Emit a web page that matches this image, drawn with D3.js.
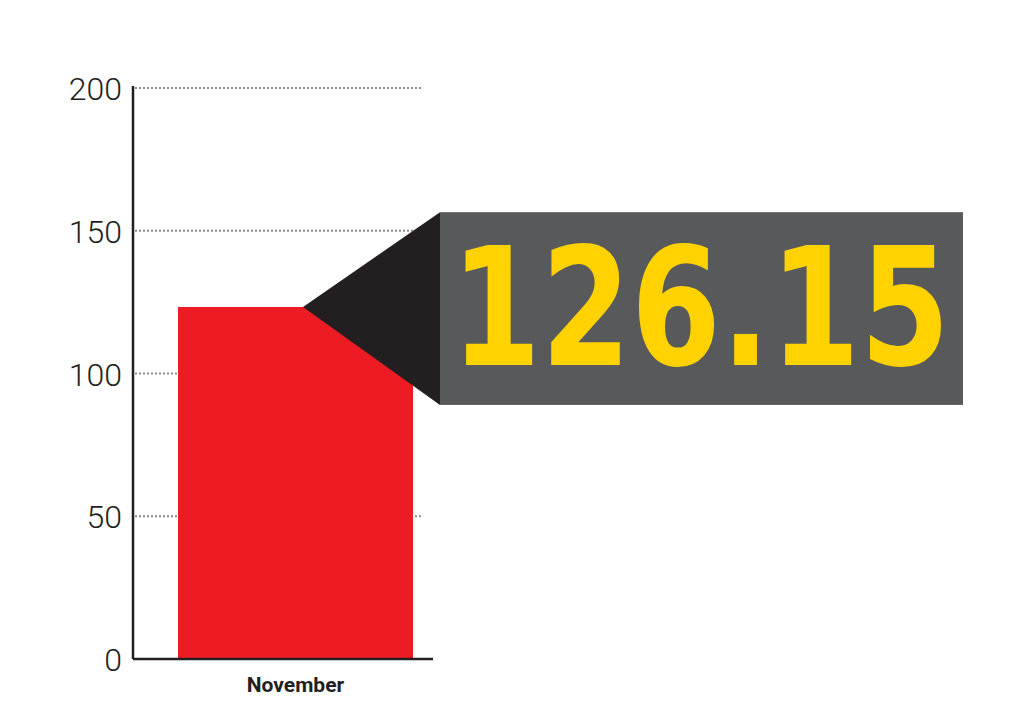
<!DOCTYPE html>
<html>
<head>
<meta charset="utf-8">
<script src="https://cdn.jsdelivr.net/npm/d3@7"></script>
<style>
  body { margin: 0; background: #fff; }
</style>
</head>
<body>
<div class="graph"></div>
<script>
// data
var categories = ['November']
var values = [123.3]          // bar height as drawn
var callouts = ['126.15']     // value printed in the callout box
var yTicks = [0, 50, 100, 150, 200]

// size and margin
var basewidth = 1024, baseheight = 714
var margin = { top: 88, right: 0, bottom: 55, left: 133 }
var height = baseheight - margin.top - margin.bottom

var svg = d3.select('.graph')
    .append('svg')
    .attr('width', basewidth)
    .attr('height', baseheight)
var canvas = svg.append('g')
    .attr('transform', 'translate(' + margin.left + ',' + margin.top + ')')

var y = d3.scaleLinear().domain([0, 200]).range([height, 0])
var x = d3.scaleBand().domain(categories).range([45, 280]).padding(0)

// dotted grid
canvas.append('g')
    .selectAll('line')
    .data(yTicks.slice(1))
    .enter().append('line')
    .attr('x1', 2).attr('x2', 288)
    .attr('y1', d => y(d)).attr('y2', d => y(d))
    .style('stroke', '#8c8c8c')
    .style('stroke-width', 2)
    .style('stroke-dasharray', '2 2')

// y axis
var yAxis = canvas.append('g')
    .call(d3.axisLeft(y).tickValues(yTicks).tickSize(0).tickPadding(11))
yAxis.select('.domain').remove()
yAxis.selectAll('text')
    .style('font-family', 'Roboto, sans-serif')
    .style('font-weight', 300)
    .style('font-size', '32px')
    .style('fill', '#231f20')
    .attr('dy', '0.36em')

canvas.append('line')
    .attr('x1', 0).attr('x2', 0)
    .attr('y1', y(200) - 2).attr('y2', height)
    .style('stroke', '#231f20')
    .style('stroke-width', 2.5)

// bars
canvas.selectAll('.bar')
    .data(values)
    .enter().append('rect')
    .attr('class', 'bar')
    .attr('x', (d, i) => x(categories[i]))
    .attr('y', d => y(d))
    .attr('width', x.bandwidth())
    .attr('height', d => height - y(d))
    .style('fill', '#ed1c24')

// x axis baseline + label
canvas.append('line')
    .attr('x1', 0).attr('x2', 300)
    .attr('y1', height).attr('y2', height)
    .style('stroke', '#231f20')
    .style('stroke-width', 2.5)

canvas.selectAll('.xlabel')
    .data(categories)
    .enter().append('text')
    .attr('x', d => x(d) + x.bandwidth() / 2)
    .attr('y', height + 33)
    .attr('text-anchor', 'middle')
    .style('font-family', 'Roboto, sans-serif')
    .style('font-weight', 700)
    .style('font-size', '21px')
    .style('fill', '#231f20')
    .text(d => d)

// callout: pointer + box
var tipX = x(categories[0]) + x.bandwidth() * 0.532
var tipY = y(values[0])
var boxX = 307, boxW = 523
var boxTop = y(156.5), boxBot = y(89)

canvas.append('rect')
    .attr('x', boxX).attr('y', boxTop)
    .attr('width', boxW).attr('height', boxBot - boxTop)
    .style('fill', '#58595b')

canvas.append('path')
    .attr('d', `M ${tipX},${tipY} L ${boxX},${boxTop} L ${boxX},${boxBot} Z`)
    .style('fill', '#231f20')

// big number, squeezed horizontally to fit the box
var big = canvas.append('text')
    .attr('text-anchor', 'middle')
    .style('font-family', 'DejaVu Sans, sans-serif')
    .style('font-weight', 700)
    .style('font-size', '164px')
    .style('fill', '#ffd200')
    .text(callouts[0])
var bw = big.node().getBBox().width
var sx = 499 / bw
big.attr('transform', 'translate(' + (boxX + boxW / 2 - 1) + ',' + (boxTop + 153) + ') scale(' + sx + ',1)')
</script>
</body>
</html>
